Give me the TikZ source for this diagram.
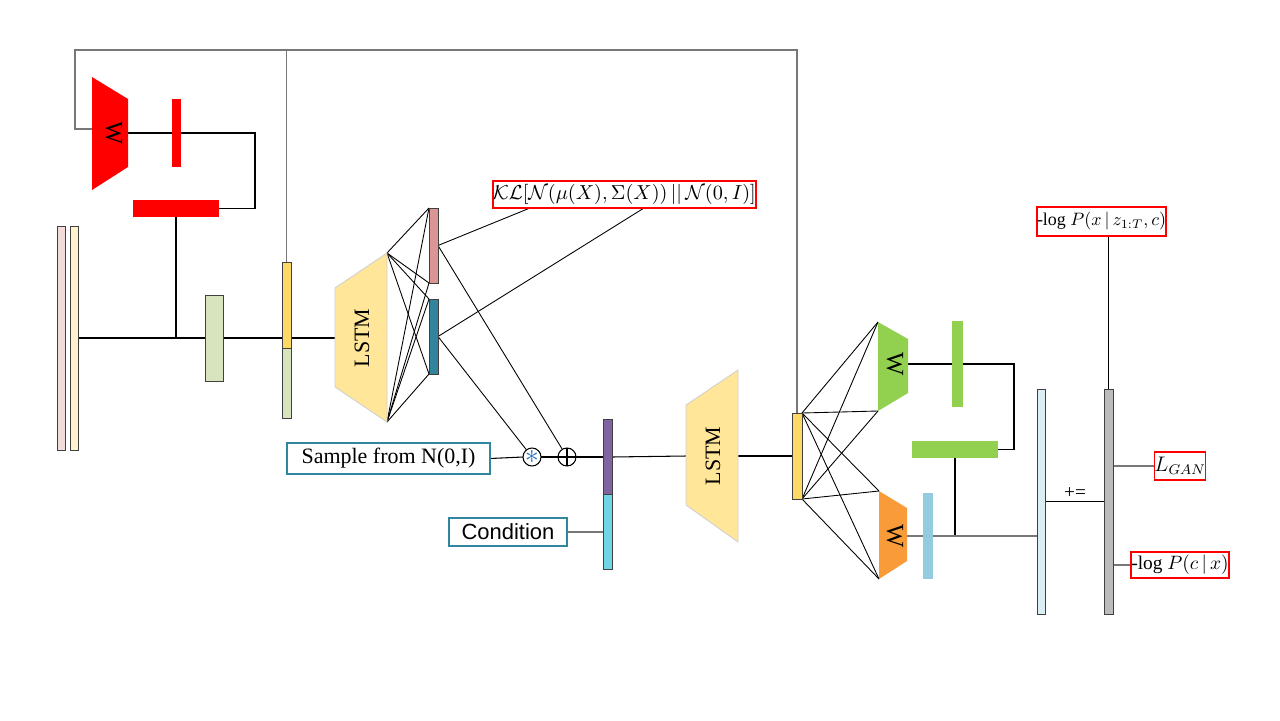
\RequirePackage{fix-cm}
\documentclass[tikz,border=0pt]{standalone}
\usepackage{fontspec}
\setmainfont{Liberation Serif}
\newfontfamily\arialf{Liberation Sans}
\usetikzlibrary{calc}
\pgfdeclarelayer{bg}
\pgfsetlayers{bg,main}
\definecolor{redc}{HTML}{FF0000}
\definecolor{pinkL}{HTML}{F2DCDB}
\definecolor{yelL}{HTML}{FFF2CC}
\definecolor{greenbx}{HTML}{D7E4BD}
\definecolor{ybar}{HTML}{FFD966}
\definecolor{lstmc}{HTML}{FFE699}
\definecolor{lstmb}{HTML}{D0D0D0}
\definecolor{pinkbar}{HTML}{D99694}
\definecolor{tealbar}{HTML}{31849B}
\definecolor{purplec}{HTML}{8064A2}
\definecolor{cyanc}{HTML}{72D5E4}
\definecolor{greenc}{HTML}{92D050}
\definecolor{orangec}{HTML}{F99B38}
\definecolor{blues}{HTML}{93CDDD}
\definecolor{lblue}{HTML}{DAEEF3}
\definecolor{grayb}{HTML}{BBBBBB}
\definecolor{bordc}{HTML}{404040}
\definecolor{boxc}{HTML}{31859C}
\definecolor{lgray}{HTML}{777777}
\definecolor{starc}{HTML}{2E75B6}
\begin{document}
\begin{tikzpicture}[x=0.02cm,y=-0.02cm,
  px/.style 2 args={minimum width=#1*0.02cm, minimum height=#2*0.02cm},
  bar/.style={draw=bordc, line width=0.5pt, inner sep=0pt, outer sep=0pt},
  flat/.style={draw=none, inner sep=0pt, outer sep=0pt},
  conn/.style={line width=0.6pt, draw=black},
  gconn/.style={line width=0.8pt, draw=lgray},
  redbox/.style={draw=redc, line width=0.8pt, fill=white, inner sep=0pt, outer sep=0pt, font=\fontsize{11}{13}\selectfont},
  tealbox/.style={draw=boxc, line width=0.9pt, fill=white, inner sep=0pt, outer sep=0pt, font=\fontsize{12.5}{15}\selectfont},
  wlabel/.style={rotate=-90, font=\fontsize{14}{14}\selectfont, inner sep=0pt},
  lstmlabel/.style={rotate=90, font=\fontsize{12.5}{12.5}\selectfont, inner sep=0pt},
  opc/.style={circle, draw=black, line width=0.6pt, fill=white, minimum size=18*0.02cm, inner sep=0pt, outer sep=0pt}]
\useasboundingbox (0,0) rectangle (1280,720);

% ---------- shapes: trapezoids ----------
\fill[redc] (92,77) -- (128,99) -- (128,167) -- (92,190) -- cycle;
\node[wlabel] (wred) at (114,133) {W};
\coordinate (redWl) at (92,129);
\coordinate (redWr) at (128,133);

\filldraw[fill=lstmc, draw=lstmb, line width=0.5pt] (335,288) -- (387,253) -- (387,422) -- (335,387) -- cycle;
\node[lstmlabel] (lstm1) at (362,338) {LSTM};
\coordinate (L1w) at (335,338);
\coordinate (L1t) at (387,253);
\coordinate (L1b) at (387,422);

\filldraw[fill=lstmc, draw=lstmb, line width=0.5pt] (686,405) -- (738,370) -- (738,542) -- (686,505) -- cycle;
\node[lstmlabel] (lstm2) at (713,456) {LSTM};
\coordinate (L2w) at (686,456);
\coordinate (L2e) at (738,456);

\fill[greenc] (878,322) -- (908,339) -- (908,393) -- (878,411) -- cycle;
\node[wlabel] (wgreen) at (895,364) {W};
\coordinate (gWt) at (878,322);
\coordinate (gWb) at (878,411);
\coordinate (gWr) at (908,364);

\fill[orangec] (879,491) -- (907,508) -- (907,561) -- (879,579) -- cycle;
\node[wlabel] (worange) at (895,536) {W};
\coordinate (oWt) at (879,491);
\coordinate (oWb) at (879,579);
\coordinate (oWr) at (907,536);

% ---------- bars ----------
\node[bar, fill=pinkL, px={8}{224}] (pinkL) at (61,338) {};
\node[bar, fill=yelL, px={8}{224}] (yelL) at (74,338) {};
\node[flat, fill=redc, px={9}{68}] (redV) at (176.5,133) {};
\node[flat, fill=redc, px={86}{17}] (redH) at (176,208.5) {};
\node[bar, fill=greenbx, px={18}{86}] (gbox) at (214,338) {};
\node[bar, fill=ybar, px={9}{86}] (ybar1) at (286.5,305) {};
\node[bar, fill=greenbx, px={9}{70}] (gbar1) at (286.5,383) {};
\node[bar, fill=pinkbar, px={9}{75}] (pbar) at (433.5,245.5) {};
\node[bar, fill=tealbar, px={9}{75}] (tbar) at (433.5,336.5) {};
\node[bar, fill=purplec, px={9}{75}] (purp) at (607.5,457) {};
\node[bar, fill=cyanc, px={9}{75}] (cyan) at (607.5,532) {};
\node[bar, fill=ybar, px={10}{86}] (ybar2) at (797,456) {};
\node[flat, fill=greenc, px={11}{86}] (gV) at (957.5,364) {};
\node[flat, fill=greenc, px={86}{17}] (gH) at (955,449.5) {};
\node[flat, fill=blues, px={10}{86}] (bS) at (928,536) {};
\node[bar, fill=lblue, px={8}{225}] (lb) at (1041,501.5) {};
\node[bar, fill=grayb, px={9}{225}] (gr) at (1108.5,501.5) {};

% ---------- text boxes ----------
\node[redbox, px={263}{27}, font=\fontsize{11.5}{14}\selectfont] (kl) at (624.5,194.5) {$\mathcal{K}\mathcal{L}[\mathcal{N}(\mu(X),\Sigma(X))\,||\,\mathcal{N}(0,I)]$};
\node[tealbox, px={203}{31}] (samp) at (388.5,458.5) {Sample from N(0,I)};
\node[tealbox, px={118}{28}, font=\arialf\fontsize{12.5}{15}\selectfont] (cond) at (508,532) {Condition};
\node[redbox, px={129}{29}, font=\fontsize{10.2}{13}\selectfont] (nll) at (1101.5,221.5) {-log $P(x\,|\,z_{1:T},c)$};
\node[redbox, px={44}{28}, font=\fontsize{12}{14}\selectfont] (lgan) at (1180,466) {$L_{GAN}$};
\node[redbox, px={98}{26}, font=\fontsize{11}{13}\selectfont] (cls) at (1180,565) {-log $P(c\,|\,x)$};
\node[font=\fontsize{11}{11}\selectfont, inner sep=0pt] (pluseq) at (1075,493) {+=};

% ---------- operators ----------
\node[opc] (star) at (532,457) {};
\node[text=starc, inner sep=0pt, font=\fontsize{16}{16}\selectfont] at (star) {$\ast$};
\node[opc] (plus) at (567,457) {};
\draw[line width=0.6pt] (plus.north) -- (plus.south) (plus.west) -- (plus.east);

\coordinate (topL) at (75,50);
\coordinate (kla) at (530,208);
\coordinate (klb) at (644,208);

% ---------- connectors ----------
\begin{pgfonlayer}{bg}
\draw[gconn] (redWl) -| (topL) -| (ybar2.north);
\draw[gconn] (ybar1.north) -- (ybar1.north |- topL);
\draw[conn] (redWr) -- ++(127,0) |- (redH.east);
\draw[conn] (redH.south) -- (redH.south |- yelL.east);
\draw[conn] (yelL.east) -- (gbox.west);
\draw[conn] (gbox.east) -- (L1w);
\foreach \s in {L1t,L1b}{
  \draw[line width=0.5pt] (\s) -- (pbar.north west);
  \draw[line width=0.5pt] (\s) -- (pbar.south west);
  \draw[line width=0.5pt] (\s) -- (tbar.north west);
  \draw[line width=0.5pt] (\s) -- (tbar.south west);
}
\draw[line width=0.5pt] (pbar.east) -- (kla);
\draw[line width=0.5pt] (tbar.east) -- (klb);
\draw[line width=0.5pt] (pbar.east) -- (plus);
\draw[line width=0.5pt] (tbar.east) -- (star);
\draw[conn] (samp.east) -- (star.west);
\draw[conn] (star.east) -- (plus.west);
\draw[conn] (plus.east) -- (purp.west);
\draw[conn] (purp.east) -- (L2w);
\draw[gconn] (cond.east) -- (cyan.west);
\draw[conn] (L2e) -- (ybar2.west);
\foreach \t in {gWt,gWb,oWt,oWb}{
  \draw[line width=0.5pt] (ybar2.north east) -- (\t);
  \draw[line width=0.5pt] (ybar2.south east) -- (\t);
}
\draw[conn] (gWr) -- ++(106,0) |- (gH.east);
\draw[conn] (gH.south) -- (gH.south |- oWr);
\draw[gconn] (oWr) -- (oWr -| lb.west);
\draw[conn] (lb.east) -- (gr.west);
\draw[conn] (gr.north) -- (gr.north |- nll.south);
\draw[gconn] (lgan.west) -- (lgan.west -| gr.east);
\draw[gconn] (cls.west) -- (cls.west -| gr.east);
\end{pgfonlayer}
\end{tikzpicture}
\end{document}
